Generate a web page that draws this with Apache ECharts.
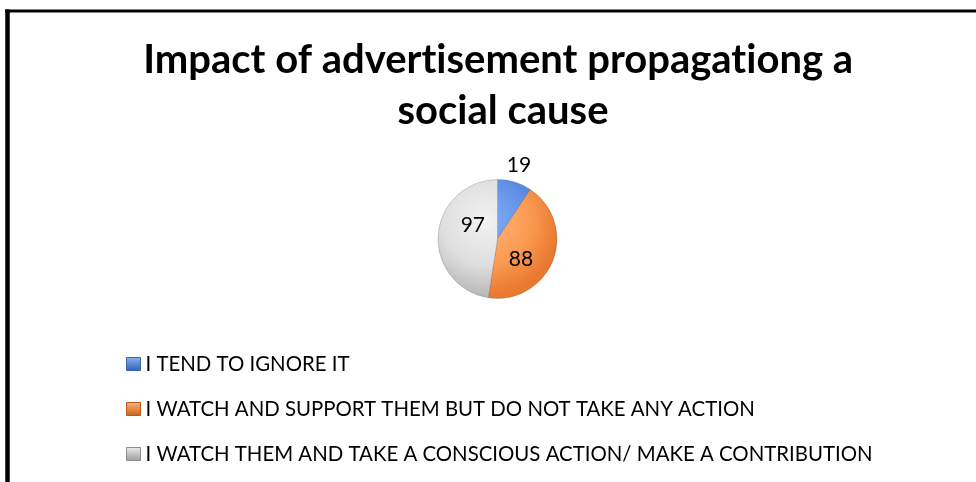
<!DOCTYPE html>
<html>
<head>
<meta charset="utf-8">
<script src="https://cdn.jsdelivr.net/npm/echarts@6/dist/echarts.min.js"></script>
<style>
  html, body { margin: 0; padding: 0; background: #fff; }
  #chart { width: 976px; height: 482px; }
</style>
</head>
<body>
<div id="chart"></div>
<script>
// Survey answers and counts
const categories = [
  'I TEND TO IGNORE IT',
  'I WATCH AND SUPPORT THEM BUT DO NOT TAKE ANY ACTION',
  'I WATCH THEM AND TAKE A CONSCIOUS ACTION/ MAKE A CONTRIBUTION'
];
const counts = [19, 88, 97];
// \u200C keeps "t" and "i" as separate glyphs (no ligature)
const chartTitle = 'Impact of advert\u200Cisement propagat\u200Ciong a \nsocial cause';

// Pie geometry (pixels)
const PIE_CX = 497.5;
const PIE_CY = 239;
const PIE_R = 59.5;

// Shaded fills: lighter toward the upper-left, darker at the rim
function sliceFill(inner, mid, outer) {
  return new echarts.graphic.RadialGradient(PIE_CX - 12, PIE_CY - 18, PIE_R * 1.25, [
    { offset: 0, color: inner },
    { offset: 0.6, color: mid },
    { offset: 1, color: outer }
  ], true);
}
function iconFill(top, bottom) {
  return new echarts.graphic.LinearGradient(0, 0, 0, 1, [
    { offset: 0, color: top },
    { offset: 1, color: bottom }
  ]);
}

const sliceFills = [
  sliceFill('#86b0f4', '#5f8fe4', '#3c6cc9'),
  sliceFill('#ffb577', '#fb9a52', '#e9792e'),
  sliceFill('#f2f2f2', '#dedede', '#b9b9b9')
];
const iconFills = [
  { color: iconFill('#8db4f2', '#2f5eb5'), borderColor: '#3762ad' },
  { color: iconFill('#fbb57c', '#c9601c'), borderColor: '#b85a1c' },
  { color: iconFill('#eeeeee', '#9a9a9a'), borderColor: '#8f8f8f' }
];

// Label placement per slice: the small slice is labelled above the pie
const labelStyles = [
  { position: 'outside', distanceToLabelLine: -13 },
  { position: 'inside', offset: [-7, 8] },
  { position: 'inside', offset: [8, -11] }
];

const chart = echarts.init(document.getElementById('chart'), null, { renderer: 'canvas' });

const pieData = categories.map((name, i) => ({
  name: name,
  value: counts[i],
  itemStyle: { color: sliceFills[i] },
  label: labelStyles[i],
  labelLine: { show: false, length: 18, length2: 0 }
}));

chart.setOption({
  animation: false,
  title: {
    text: chartTitle,
    left: 498,
    top: 30,
    textAlign: 'center',
    textStyle: {
      fontFamily: 'Lato',
      fontWeight: 'bold',
      fontSize: 40,
      lineHeight: 51,
      color: '#000'
    }
  },
  legend: {
    orient: 'vertical',
    left: 121,
    top: 347,
    itemWidth: 14,
    itemHeight: 13,
    itemGap: 21,
    icon: 'rect',
    selectedMode: false,
    textStyle: {
      fontFamily: 'Lato',
      fontSize: 20.4,
      lineHeight: 24,
      color: '#000'
    },
    data: categories.map((name, i) => ({
      name: name,
      itemStyle: {
        color: iconFills[i].color,
        borderColor: iconFills[i].borderColor,
        borderWidth: 1
      }
    }))
  },
  graphic: [
    {
      type: 'line',
      shape: { x1: 7.5, y1: 9.5, x2: 7.5, y2: 482 },
      style: { stroke: '#000', lineWidth: 4.5 },
      silent: true
    },
    {
      type: 'line',
      shape: { x1: 5, y1: 11, x2: 976, y2: 11 },
      style: { stroke: '#000', lineWidth: 3 },
      silent: true
    }
  ],
  series: [{
    type: 'pie',
    center: [PIE_CX, PIE_CY],
    radius: PIE_R,
    startAngle: 90,
    clockwise: true,
    avoidLabelOverlap: false,
    itemStyle: { borderColor: 'rgba(60,60,60,0.35)', borderWidth: 0.6 },
    label: {
      show: true,
      formatter: '{c}',
      fontFamily: 'Lato',
      fontSize: 21,
      color: '#000'
    },
    emphasis: { disabled: true },
    data: pieData
  }]
});
</script>
</body>
</html>
